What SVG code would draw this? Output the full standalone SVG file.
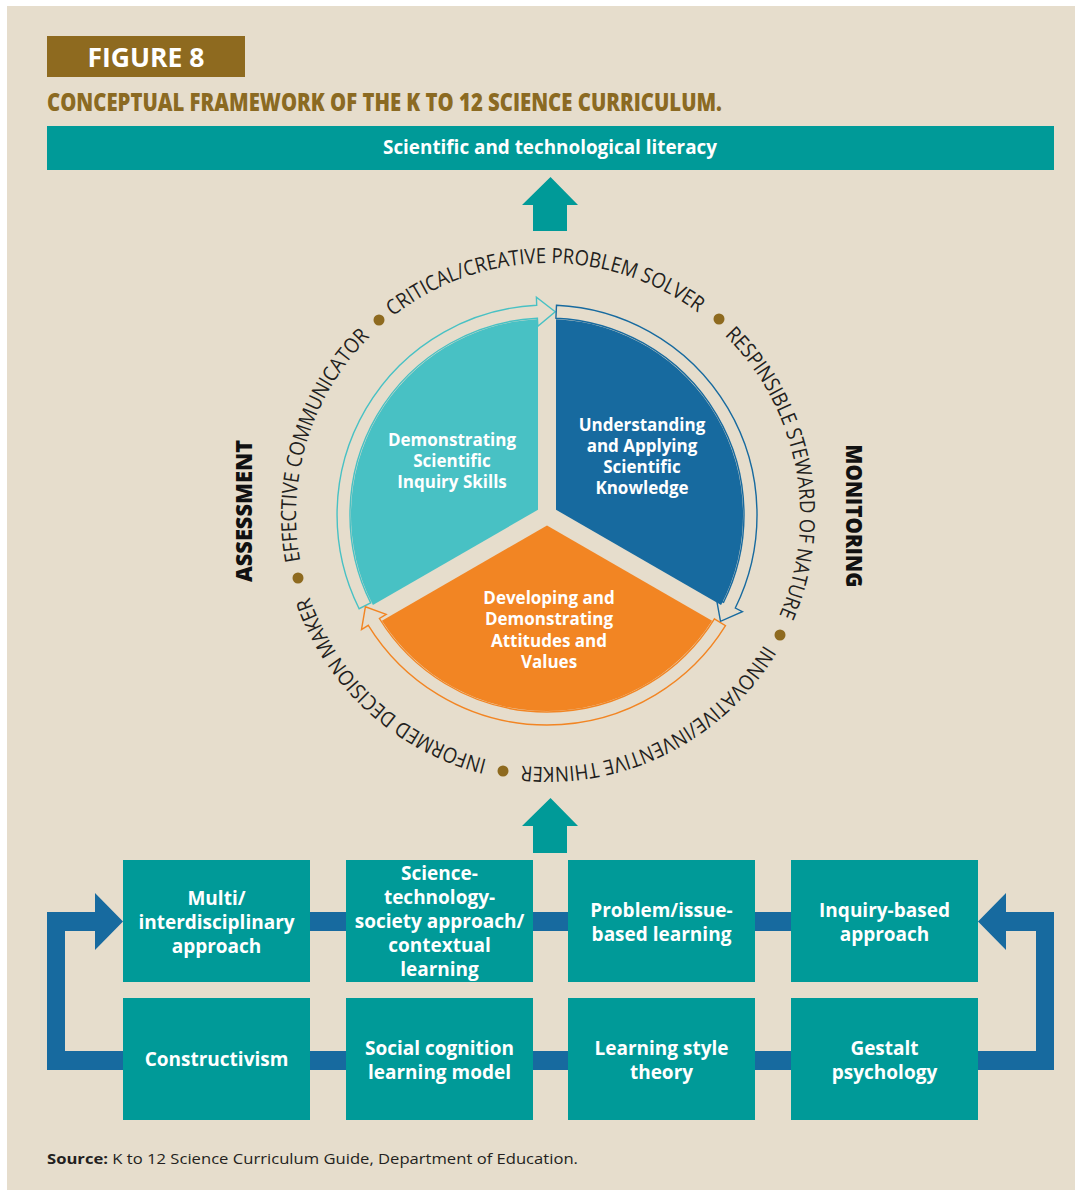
<svg xmlns="http://www.w3.org/2000/svg" width="1081" height="1195" viewBox="0 0 1081 1195">
<style>
.bx{fill:#009A98}
.bt{font-family:"Open Sans","Noto Sans",sans-serif;font-weight:700;font-size:19px;fill:#fff;text-anchor:middle}
.ct{font-family:"Open Sans","Noto Sans",sans-serif;font-weight:700;font-size:17px;fill:#fff;text-anchor:middle}
.ring{font-family:"Open Sans","Noto Sans",sans-serif;font-size:21px;fill:#231F20}
.side{font-family:"Open Sans","Noto Sans",sans-serif;font-weight:800;font-size:22px;fill:#111;text-anchor:middle}
.dot{fill:#8E6A1F}
.conn{fill:#176A9F}
.arr{fill:none;stroke-width:1.4}
</style>
<defs>
<path id="p1" d="M392.9,316.4 A252,252 0 0 1 715.0,326.3"/>
<path id="p2" d="M724.6,335.3 A252,252 0 0 1 769.5,635.2"/>
<path id="p3" d="M764.0,644.8 A252,252 0 0 1 499.9,762.4"/>
<path id="p4" d="M487.0,759.5 A252,252 0 0 1 303.5,576.0"/>
<path id="p5" d="M300.2,560.9 A252,252 0 0 1 386.0,322.0"/>
</defs>
<rect x="0" y="0" width="1081" height="1195" fill="#ffffff"/>
<rect x="7" y="6" width="1068" height="1184" fill="#E6DDCC"/>

<g id="header">
<rect x="47" y="36" width="198" height="41" fill="#8E6A1F"/>
<text x="146" y="67" font-family="Open Sans, sans-serif" font-weight="700" font-size="26" fill="#fff" text-anchor="middle" textLength="117" lengthAdjust="spacingAndGlyphs">FIGURE 8</text>
<text x="47" y="111" font-family="Open Sans, sans-serif" font-weight="800" font-size="25" fill="#8B6A22" textLength="675" lengthAdjust="spacingAndGlyphs">CONCEPTUAL FRAMEWORK OF THE K TO 12 SCIENCE CURRICULUM.</text>
</g>

<g id="literacy">
<rect x="47" y="126" width="1007" height="44" class="bx"/>
<text x="550" y="154" class="bt" textLength="334" lengthAdjust="spacingAndGlyphs">Scientific and technological literacy</text>
</g>

<g id="connectors">
<polygon class="bx" points="550.5,177 578,205 567,205 567,231 533,231 533,205 522,205"/>
<polygon class="bx" points="550.5,798 578,826 567,826 567,853 533,853 533,826 522,826"/>
<rect class="conn" x="123" y="912" width="855" height="19"/>
<rect class="conn" x="123" y="1051" width="855" height="19"/>
<polygon class="conn" points="123,1051 65,1051 65,931 95,931 95,950 123,921.5 95,893 95,912 47,912 47,1070 123,1070"/>
<polygon class="conn" points="978,1051 1036,1051 1036,931 1006,931 1006,950 978,921.5 1006,893 1006,912 1054,912 1054,1070 978,1070"/>
</g>

<g id="cycle-arrows">
<path class="arr" stroke="#48C1C4" d="M370.7,602.9 L359.1,608.7 A210,210 0 0 1 536.7,305.3 L536.4,297.3 L555.2,311.7 L537.8,326.2 L537.4,318.2 A197,197 0 0 0 370.7,602.9 Z"/>
<path class="arr" stroke="#176A9F" d="M555.9,318.2 L556.5,305.2 A210,210 0 0 1 735.3,608.0 L742.4,611.6 L720.5,621.3 L716.4,598.7 L723.6,602.3 A197,197 0 0 0 555.9,318.2 Z"/>
<path class="arr" stroke="#F28523" d="M714.4,618.8 L725.5,625.7 A210,210 0 0 1 368.3,625.3 L361.5,629.6 L365.4,606.8 L386.2,614.3 L379.4,618.5 A197,197 0 0 0 714.4,618.8 Z"/>
</g>

<g id="inquiry-skills">
<path fill="#48C1C4" d="M538,509.8 L538,319.2 A196,196 0 0 0 372.9,605.1 Z"/>
<text class="ct" x="452" y="446">Demonstrating<tspan x="452" dy="21">Scientific</tspan><tspan x="452" dy="21">Inquiry Skills</tspan></text>
</g>
<g id="knowledge">
<path fill="#176A9F" d="M556,509.8 L556,319.2 A196,196 0 0 1 721.1,605.1 Z"/>
<text class="ct" x="642" y="431">Understanding<tspan x="642" dy="21">and Applying</tspan><tspan x="642" dy="21">Scientific</tspan><tspan x="642" dy="21">Knowledge</tspan></text>
</g>
<g id="attitudes">
<path fill="#F28523" d="M547,525.4 L712.1,620.7 A196,196 0 0 1 381.9,620.7 Z"/>
<text class="ct" x="549" y="604">Developing and<tspan x="549" dy="21.3">Demonstrating</tspan><tspan x="549" dy="21.3">Attitudes and</tspan><tspan x="549" dy="21.3">Values</tspan></text>
</g>

<g id="ring-labels">
<text class="ring"><textPath href="#p1" textLength="327.7" lengthAdjust="spacingAndGlyphs">CRITICAL/CREATIVE PROBLEM SOLVER</textPath></text>
<text class="ring"><textPath href="#p2" textLength="303.5" lengthAdjust="spacingAndGlyphs">RESPINSIBLE STEWARD OF NATURE</textPath></text>
<text class="ring"><textPath href="#p3" textLength="285.9" lengthAdjust="spacingAndGlyphs">INNOVATIVE/INVENTIVE THINKER</textPath></text>
<text class="ring"><textPath href="#p4" textLength="250.7" lengthAdjust="spacingAndGlyphs">INFORMED DECISION MAKER</textPath></text>
<text class="ring"><textPath href="#p5" textLength="244.1" lengthAdjust="spacingAndGlyphs">EFFECTIVE COMMUNICATOR</textPath></text>
<circle class="dot" cx="379" cy="320" r="5.5"/>
<circle class="dot" cx="719" cy="319" r="5.5"/>
<circle class="dot" cx="780" cy="635" r="5.5"/>
<circle class="dot" cx="503" cy="771" r="5.5"/>
<circle class="dot" cx="298" cy="578" r="5.5"/>
</g>

<g id="assessment">
<text class="side" transform="translate(252,511) rotate(-90)" textLength="142" lengthAdjust="spacingAndGlyphs">ASSESSMENT</text>
</g>
<g id="monitoring">
<text class="side" transform="translate(846,516) rotate(90)" textLength="143" lengthAdjust="spacingAndGlyphs">MONITORING</text>
</g>

<g id="box-multi">
<rect class="bx" x="123" y="860" width="187" height="122"/>
<text class="bt" x="216.5" y="905">Multi/<tspan x="216.5" dy="24">interdisciplinary</tspan><tspan x="216.5" dy="24">approach</tspan></text>
</g>
<g id="box-sts">
<rect class="bx" x="346" y="860" width="187" height="122"/>
<text class="bt" x="439.5" y="880">Science-<tspan x="439.5" dy="24">technology-</tspan><tspan x="439.5" dy="24">society approach/</tspan><tspan x="439.5" dy="24">contextual</tspan><tspan x="439.5" dy="24">learning</tspan></text>
</g>
<g id="box-problem">
<rect class="bx" x="568" y="860" width="187" height="122"/>
<text class="bt" x="661.5" y="917">Problem/issue-<tspan x="661.5" dy="24">based learning</tspan></text>
</g>
<g id="box-inquiry">
<rect class="bx" x="791" y="860" width="187" height="122"/>
<text class="bt" x="884.5" y="917">Inquiry-based<tspan x="884.5" dy="24">approach</tspan></text>
</g>
<g id="box-constructivism">
<rect class="bx" x="123" y="998" width="187" height="122"/>
<text class="bt" x="216.5" y="1066">Constructivism</text>
</g>
<g id="box-social">
<rect class="bx" x="346" y="998" width="187" height="122"/>
<text class="bt" x="439.5" y="1055">Social cognition<tspan x="439.5" dy="24">learning model</tspan></text>
</g>
<g id="box-style">
<rect class="bx" x="568" y="998" width="187" height="122"/>
<text class="bt" x="661.5" y="1055">Learning style<tspan x="661.5" dy="24">theory</tspan></text>
</g>
<g id="box-gestalt">
<rect class="bx" x="791" y="998" width="187" height="122"/>
<text class="bt" x="884.5" y="1055">Gestalt<tspan x="884.5" dy="24">psychology</tspan></text>
</g>

<g id="source">
<text x="47" y="1164" font-family="Open Sans, sans-serif" font-size="15" fill="#231F20" textLength="531" lengthAdjust="spacingAndGlyphs"><tspan font-weight="700">Source:</tspan> K to 12 Science Curriculum Guide, Department of Education.</text>
</g>
</svg>
